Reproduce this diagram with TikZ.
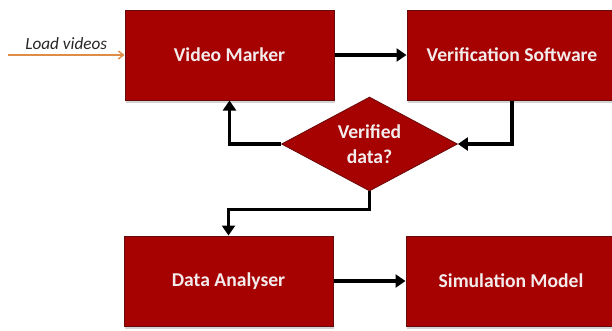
\documentclass[tikz,border=0pt]{standalone}
\usepackage{fontspec}
\setmainfont{Carlito}
\usetikzlibrary{shapes.geometric,arrows.meta,shadows}

\definecolor{boxred}{RGB}{166,2,2}
\definecolor{boxedge}{RGB}{105,10,10}
\definecolor{boxtext}{RGB}{244,236,236}
\definecolor{loadline}{RGB}{222,140,70}

\tikzset{
  procbox/.style={draw=boxedge, line width=1pt, fill=boxred, rectangle,
    minimum height=90pt, inner sep=0pt, text=boxtext,
    font=\bfseries\fontsize{19.6}{22}\selectfont,
    drop shadow={opacity=0.35, shadow xshift=1pt, shadow yshift=-2.5pt}},
  decision/.style={draw=boxedge, line width=0.8pt, fill=boxred, diamond,
    aspect=1.88, minimum width=176pt, minimum height=94pt, inner sep=0pt,
    text=boxtext, align=center,
    font=\bfseries\fontsize{19.6}{25}\selectfont},
  flow/.style={line width=3.6pt, draw=black,
    -{Triangle[width=13pt,length=10pt]}},
  loadflow/.style={line width=1.4pt, draw=loadline,
    -{Straight Barb[width=8pt,length=5pt]}}
}

\begin{document}
\begin{tikzpicture}[x=1pt,y=-1pt]
  \useasboundingbox (0,0) rectangle (612,330);

  % process boxes
  \node[procbox, minimum width=209pt] (vm) at (229.5,55) {Video Marker};
  \node[procbox, minimum width=210pt] (vs) at (512,55) {Verification Software};
  \node[procbox, minimum width=209pt] (da) at (228.5,281) {Data Analyser};
  \node[procbox, minimum width=210pt] (sm) at (511,281) {Simulation Model};

  % decision
  \node[decision] (dec) at (369.5,144) {Verified\\data?};

  % input
  \coordinate (src) at (8,55);
  \draw[loadflow] (src) -- (vm.west)
    node[pos=0.5, above=1pt, text=black!85,
         font=\itshape\fontsize{17.2}{20}\selectfont] {Load videos};

  % flow connectors
  \draw[flow] (vm.east) -- (vs.west);
  \draw[flow] (vs.south) |- (dec.east);
  \draw[flow] (dec.west) -| (vm.south);
  \draw[flow] (dec.south) -- ++(0,18) -| (da.north);
  \draw[flow] (da.east) -- (sm.west);
\end{tikzpicture}
\end{document}
